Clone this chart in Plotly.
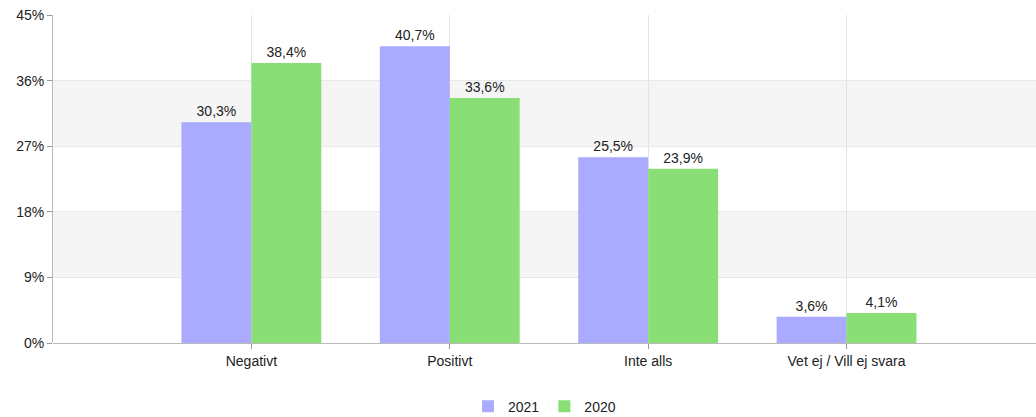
import plotly.graph_objects as go

categories = ["Negativt", "Positivt", "Inte alls", "Vet ej / Vill ej svara"]
series_names = ["2021", "2020"]
values_2021 = [30.3, 40.7, 25.5, 3.6]
values_2020 = [38.4, 33.6, 23.9, 4.1]
y_ticks = [0, 9, 18, 27, 36, 45]
y_tick_labels = [f"{v}%" for v in y_ticks]

colors = ["#AAAAFF", "#8ADE76"]
font = "Liberation Sans, Arial, sans-serif"

fig = go.Figure()
for name, vals, col in zip(series_names, [values_2021, values_2020], colors):
    fig.add_trace(go.Bar(
        x=categories, y=vals, name=name, marker=dict(color=col, line=dict(width=0)),
        texttemplate="%{y:.1f}%", textposition="outside", cliponaxis=False,
        textfont=dict(size=14, color="#222222", family=font),
    ))

# alternating bands
for lo, hi in [(9, 18), (27, 36)]:
    fig.add_shape(type="rect", xref="paper", yref="y", x0=0, x1=1, y0=lo, y1=hi,
                  fillcolor="#F5F5F5", line=dict(width=0), layer="below")

fig.update_layout(
    width=1036, height=417,
    margin=dict(l=53, r=0, t=15, b=74, autoexpand=False),
    paper_bgcolor="white", plot_bgcolor="white",
    separators=",.",
    barmode="group", bargap=0.295, bargroupgap=0,
    font=dict(family=font, size=14, color="#222222"),
    showlegend=True,
    legend=dict(orientation="h", x=0.5, xanchor="center",
                yref="container", y=0.025, yanchor="middle",
                font=dict(size=14, color="#222222")),
    xaxis=dict(
        type="category", range=[-1, 3.955],
        showgrid=True, gridcolor="#E3E3E3", gridwidth=1,
        ticks="outside", ticklen=5, tickcolor="#999999",
        showline=False, zeroline=False,
        tickfont=dict(size=14, color="#222222"),
    ),
    yaxis=dict(
        range=[0, 45], tickvals=y_ticks, ticktext=y_tick_labels,
        showgrid=True, gridcolor="#E8E8E8", gridwidth=1,
        ticks="outside", ticklen=5, tickcolor="#999999",
        showline=True, linecolor="#BBBBBB", linewidth=1,
        zeroline=True, zerolinecolor="#BBBBBB", zerolinewidth=1,
        tickfont=dict(size=14, color="#222222"),
    ),
)

fig.write_html("out.html", config={"displayModeBar": False},
               post_script="document.body.style.margin='0';")
